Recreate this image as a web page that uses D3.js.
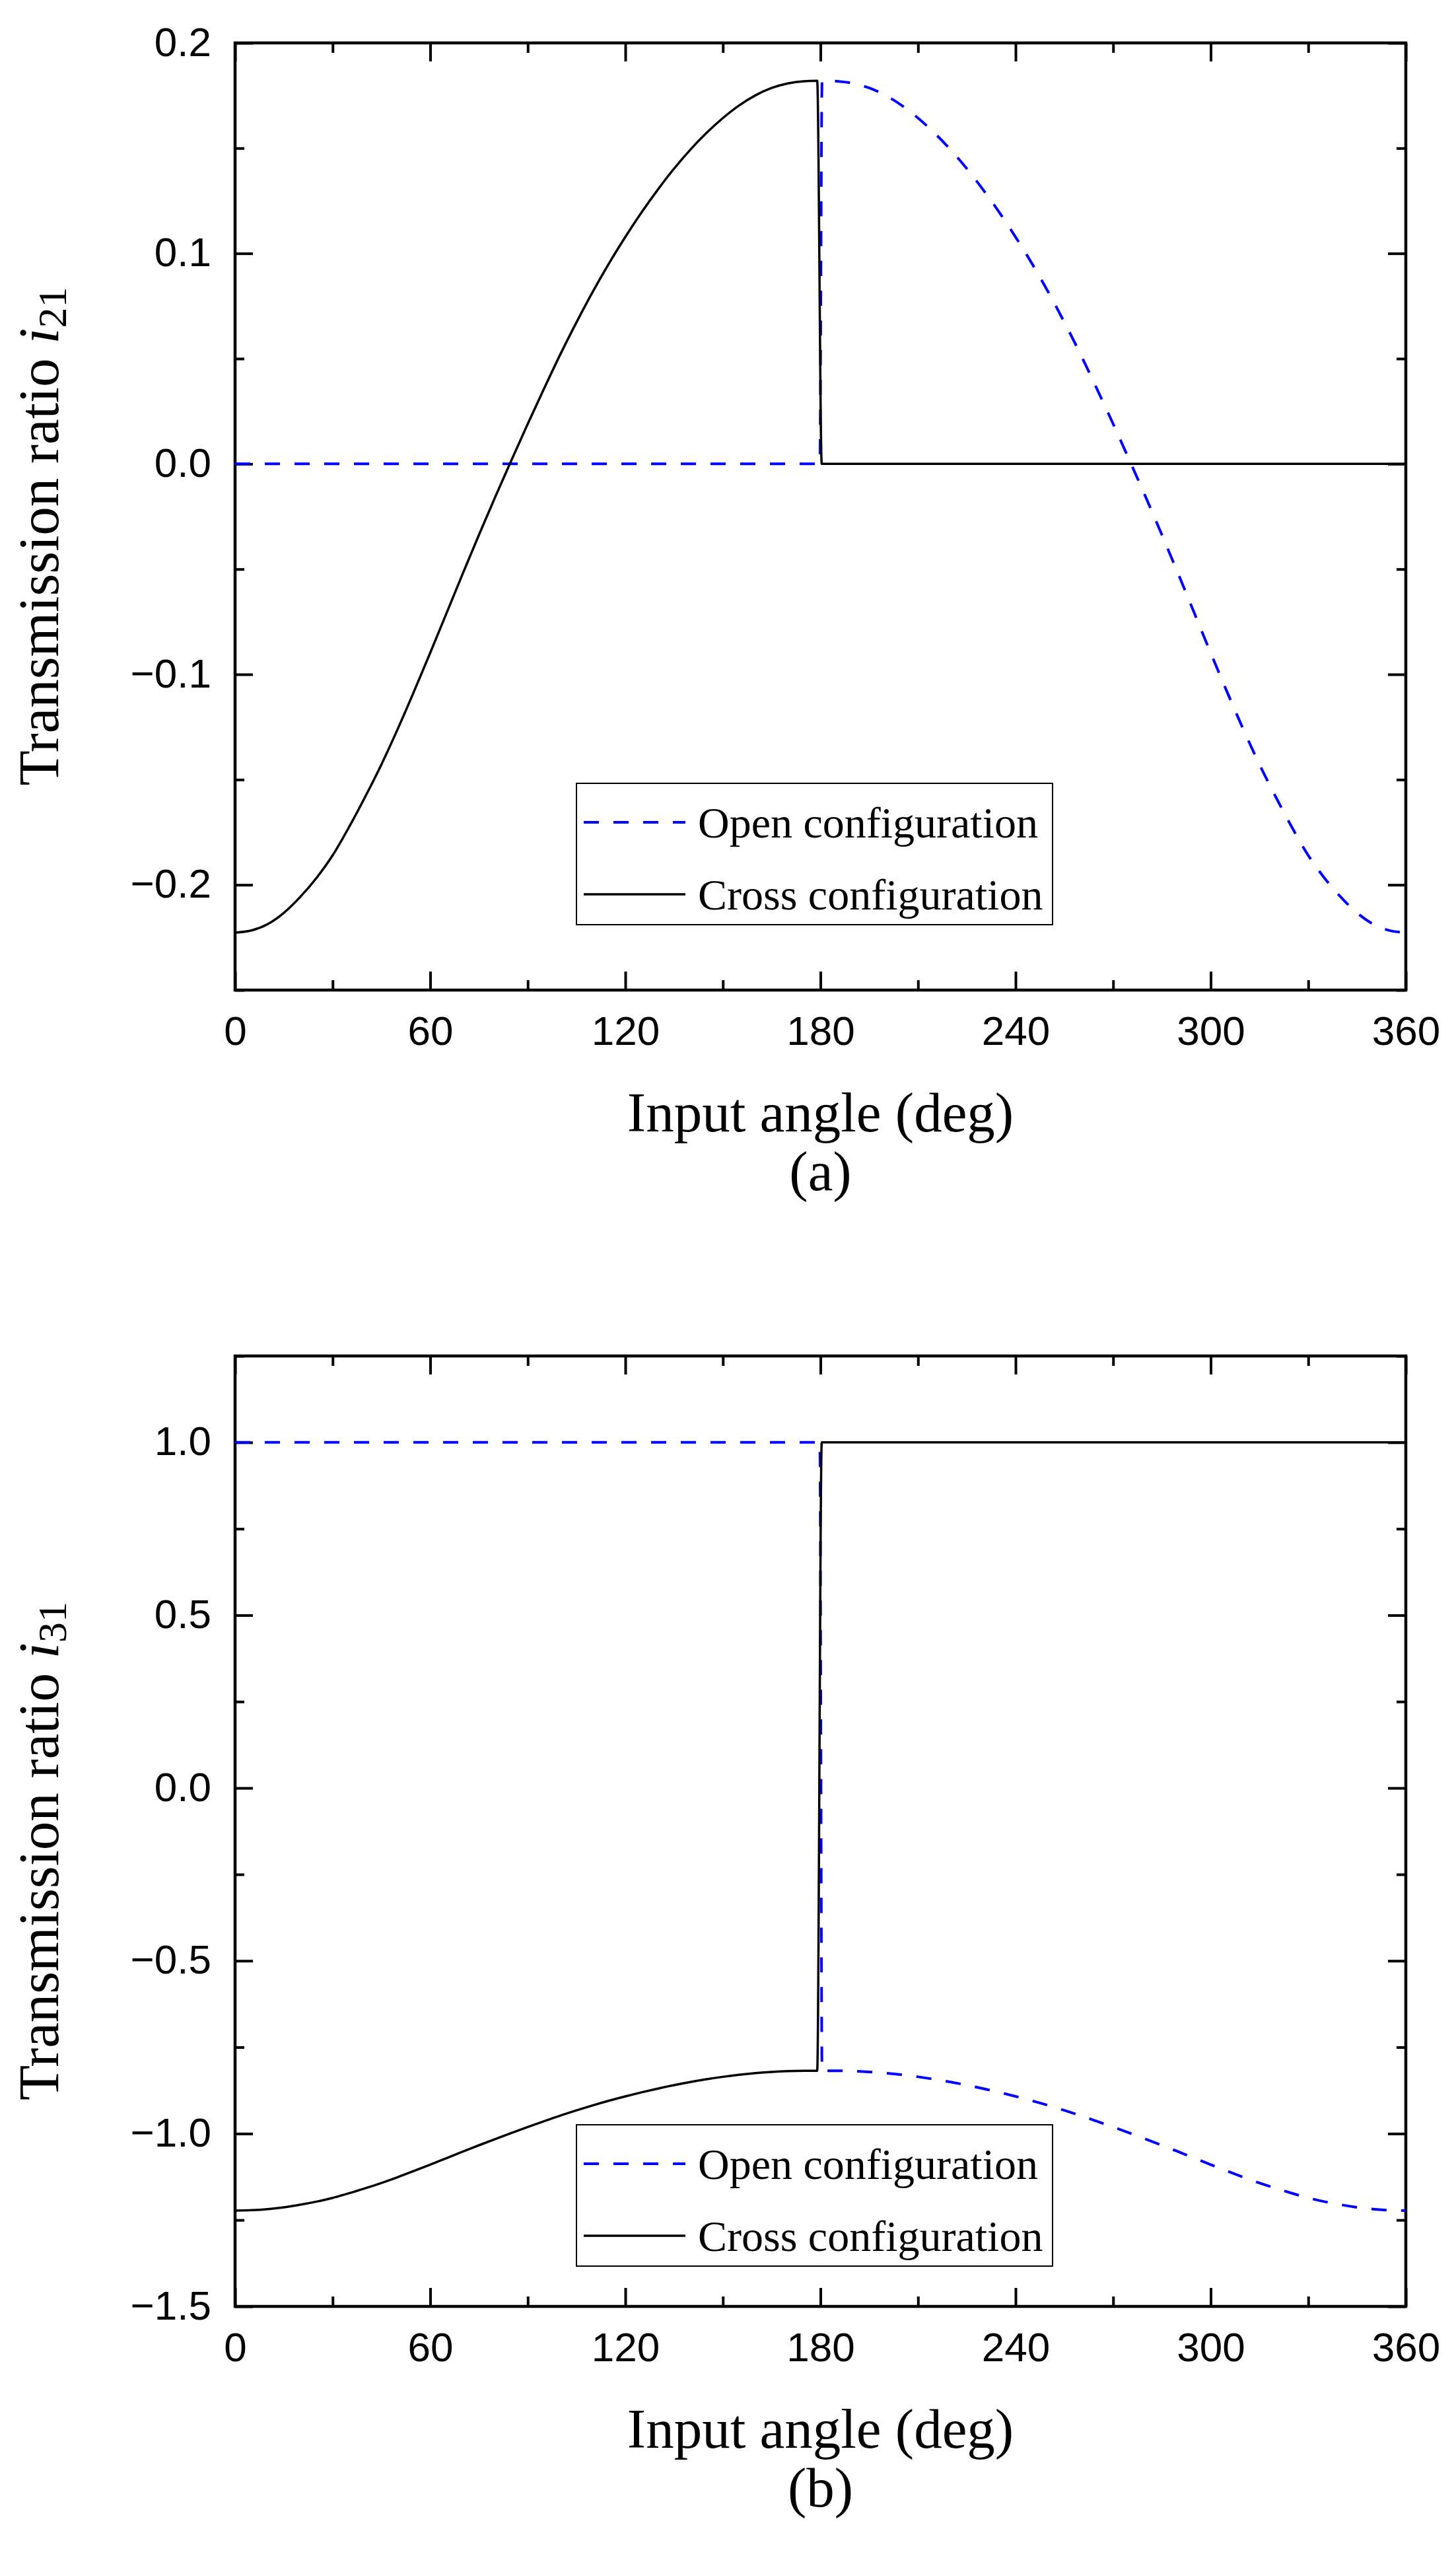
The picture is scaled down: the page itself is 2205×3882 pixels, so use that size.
<!DOCTYPE html>
<html>
<head>
<meta charset="utf-8">
<script src="https://cdn.jsdelivr.net/npm/d3@7/dist/d3.min.js"></script>
<style>
    body { margin: 0; background: #ffffff; }
    svg { display: block; }
</style>
</head>
<body>
<svg id="chart"></svg>
<script>
// input angle samples (deg)
const crossAngles = [0, 5, 10, 15, 20, 25, 30, 35, 40, 45, 50, 55, 60, 65, 70, 75, 80, 85, 90,
    95, 100, 105, 110, 115, 120, 125, 130, 135, 140, 145, 150, 155, 160, 165, 170, 175, 179, 180.4, 360];
const openAngles = [0, 179.8, 180.5, 185, 190, 195, 200, 205, 210, 215, 220, 225, 230, 235, 240,
    245, 250, 255, 260, 265, 270, 275, 280, 285, 290, 295, 300, 305, 310, 315, 320, 325, 330,
    335, 340, 345, 350, 355, 360];

// transmission ratio i21, panel (a)
const cross21 = [-0.2227, -0.2217, -0.2187, -0.2133, -0.2058, -0.1968, -0.1860, -0.1727, -0.1582,
    -0.1428, -0.1260, -0.1082, -0.0898, -0.0710, -0.0522, -0.0337, -0.0157, 0.0018, 0.0190,
    0.0357, 0.0520, 0.0673, 0.0818, 0.0953, 0.1078, 0.1195, 0.1303, 0.1403, 0.1493, 0.1573,
    0.1643, 0.1703, 0.1751, 0.1786, 0.1808, 0.1818, 0.1820, 0, 0];
const open21 = [0, 0, 0.1820, 0.1818, 0.1808, 0.1786, 0.1751, 0.1703, 0.1643, 0.1573, 0.1493,
    0.1403, 0.1303, 0.1195, 0.1078, 0.0953, 0.0818, 0.0673, 0.0520, 0.0357, 0.0190, 0.0018,
    -0.0157, -0.0337, -0.0522, -0.0710, -0.0898, -0.1082, -0.1260, -0.1428, -0.1582, -0.1727,
    -0.1860, -0.1968, -0.2058, -0.2133, -0.2187, -0.2217, -0.2227];

// transmission ratio i31, panel (b)
const cross31 = [-1.2227, -1.2217, -1.2187, -1.2133, -1.2058, -1.1968, -1.1860, -1.1727, -1.1582,
    -1.1428, -1.1260, -1.1082, -1.0898, -1.0710, -1.0522, -1.0337, -1.0157, -0.9982, -0.9810,
    -0.9643, -0.9480, -0.9327, -0.9182, -0.9047, -0.8922, -0.8805, -0.8697, -0.8597, -0.8507,
    -0.8427, -0.8357, -0.8297, -0.8249, -0.8214, -0.8192, -0.8182, -0.8180, 1.0, 1.0];
const open31 = [1.0, 1.0, -0.8180, -0.8182, -0.8192, -0.8214, -0.8249, -0.8297, -0.8357, -0.8427,
    -0.8507, -0.8597, -0.8697, -0.8805, -0.8922, -0.9047, -0.9182, -0.9327, -0.9480, -0.9643,
    -0.9810, -0.9982, -1.0157, -1.0337, -1.0522, -1.0710, -1.0898, -1.1082, -1.1260, -1.1428,
    -1.1582, -1.1727, -1.1860, -1.1968, -1.2058, -1.2133, -1.2187, -1.2217, -1.2227];

// axis ticks
const xMajor = [0, 60, 120, 180, 240, 300, 360];
const xMinor = [30, 90, 150, 210, 270, 330];
const yMajor21 = [-0.2, -0.1, 0.0, 0.1, 0.2];
const yMinor21 = [-0.25, -0.15, -0.05, 0.05, 0.15];
const yMajor31 = [-1.5, -1.0, -0.5, 0.0, 0.5, 1.0];
const yMinor31 = [-1.25, -0.75, -0.25, 0.25, 0.75, 1.25];

const legendLabels = ["Open configuration", "Cross configuration"];

const WIDTH = 2205;
const HEIGHT = 3882;
const LEFT = 356;
const RIGHT = 2129;
const SANS = "'Liberation Sans', Arial, sans-serif";
const SERIF = "'Liberation Serif', 'Times New Roman', serif";
const BLUE = "#0000ff";
const DASH = "23,22";

const panels = [
    { top: 65, bottom: 1499, domain: [-0.25, 0.2], major: yMajor21, minor: yMinor21,
      cross: cross21, open: open21, sub: "21", legendTop: 1186, caption: "(a)", titleShift: 30 },
    { top: 2053, bottom: 3492, domain: [-1.5, 1.25], major: yMajor31, minor: yMinor31,
      cross: cross31, open: open31, sub: "31", legendTop: 3217, caption: "(b)", titleShift: 30 }
];

const svg = d3.select("#chart")
    .attr("width", WIDTH)
    .attr("height", HEIGHT)
    .attr("viewBox", `0 0 ${WIDTH} ${HEIGHT}`);

svg.append("rect").attr("width", WIDTH).attr("height", HEIGHT).attr("fill", "#fff");

function styleAxis(g) {
    g.select(".domain").remove();
    g.attr("font-family", SANS).attr("font-size", 62);
    g.selectAll(".tick line").attr("stroke", "#000").attr("stroke-width", 4);
    g.selectAll(".tick text").attr("fill", "#000");
}

function addAxis(parent, axis, tx, ty) {
    let g = parent.append("g")
        .attr("transform", `translate(${ tx }, ${ ty })`)
        .call(axis);
    styleAxis(g);
    return g;
}

function drawPanel(p) {
    let x = d3.scaleLinear().domain([0, 360]).range([LEFT, RIGHT]);
    let y = d3.scaleLinear().domain(p.domain).range([p.bottom, p.top]);
    let g = svg.append("g");

    // bottom + top axes (ticks pointing inward)
    let bottom = addAxis(g, d3.axisBottom(x).tickValues(xMajor).tickSize(-28).tickSizeOuter(0)
        .tickFormat(d3.format("d")), 0, p.bottom);
    bottom.selectAll(".tick text").attr("y", 83).attr("dy", null);
    addAxis(g, d3.axisBottom(x).tickValues(xMinor).tickSize(-15).tickSizeOuter(0).tickFormat(""), 0, p.bottom);
    addAxis(g, d3.axisTop(x).tickValues(xMajor).tickSize(-28).tickSizeOuter(0).tickFormat(""), 0, p.top);
    addAxis(g, d3.axisTop(x).tickValues(xMinor).tickSize(-15).tickSizeOuter(0).tickFormat(""), 0, p.top);

    // left + right axes
    let left = addAxis(g, d3.axisLeft(y).tickValues(p.major).tickSize(-27).tickSizeOuter(0)
        .tickFormat(d3.format(".1f")), LEFT, 0);
    left.selectAll(".tick text").attr("x", -36).attr("dy", 19);
    addAxis(g, d3.axisLeft(y).tickValues(p.minor).tickSize(-14).tickSizeOuter(0).tickFormat(""), LEFT, 0);
    addAxis(g, d3.axisRight(y).tickValues(p.major).tickSize(-27).tickSizeOuter(0).tickFormat(""), RIGHT, 0);
    addAxis(g, d3.axisRight(y).tickValues(p.minor).tickSize(-14).tickSizeOuter(0).tickFormat(""), RIGHT, 0);

    g.append("rect")
        .attr("x", LEFT)
        .attr("y", p.top)
        .attr("width", RIGHT - LEFT)
        .attr("height", p.bottom - p.top)
        .attr("fill", "none")
        .attr("stroke", "#000")
        .attr("stroke-width", 4.5);

    let line = d3.line()
        .x(d => x(d[0]))
        .y(d => y(d[1]))
        .curve(d3.curveMonotoneX);

    g.append("path")
        .datum(d3.zip(openAngles, p.open))
        .attr("d", line)
        .attr("fill", "none")
        .attr("stroke", BLUE)
        .attr("stroke-width", 4)
        .attr("stroke-dasharray", DASH);

    g.append("path")
        .datum(d3.zip(crossAngles, p.cross))
        .attr("d", line)
        .attr("fill", "none")
        .attr("stroke", "#000")
        .attr("stroke-width", 3.5);

    // legend
    let lg = g.append("g").attr("transform", `translate(873, ${ p.legendTop })`);
    lg.append("rect")
        .attr("width", 721)
        .attr("height", 214)
        .attr("fill", "#fff")
        .attr("stroke", "#000")
        .attr("stroke-width", 2);
    let rows = lg.selectAll(".row")
        .data(legendLabels)
        .enter()
        .append("g")
            .attr("class", "row")
            .attr("transform", (d, i) => `translate(0, ${ 59 + i * 109 })`);
    rows.append("line")
        .attr("x1", 11)
        .attr("x2", 165)
        .attr("stroke", (d, i) => i === 0 ? BLUE : "#000")
        .attr("stroke-width", (d, i) => i === 0 ? 4 : 3.5)
        .attr("stroke-dasharray", (d, i) => i === 0 ? DASH : null);
    rows.append("text")
        .attr("x", 184)
        .attr("y", 23)
        .attr("font-family", SERIF)
        .attr("font-size", 66)
        .attr("fill", "#000")
        .text(d => d);

    // axis titles and caption
    let midX = (LEFT + RIGHT) / 2;
    g.append("text")
        .attr("x", midX)
        .attr("y", p.bottom + 214)
        .attr("text-anchor", "middle")
        .attr("font-family", SERIF)
        .attr("font-size", 85)
        .text("Input angle (deg)");

    g.append("text")
        .attr("x", midX)
        .attr("y", p.bottom + 303)
        .attr("text-anchor", "middle")
        .attr("font-family", SERIF)
        .attr("font-size", 85)
        .text(p.caption);

    let cy = (p.top + p.bottom) / 2 + p.titleShift;
    let yt = g.append("text")
        .attr("transform", `translate(88, ${ cy }) rotate(-90)`)
        .attr("text-anchor", "middle")
        .attr("font-family", SERIF)
        .attr("font-size", 87);
    yt.append("tspan").text("Transmission ratio ");
    yt.append("tspan").attr("font-style", "italic").text("i");
    yt.append("tspan").attr("font-size", 62).attr("dy", 12).text(p.sub);
}

panels.forEach(drawPanel);
</script>
</body>
</html>
